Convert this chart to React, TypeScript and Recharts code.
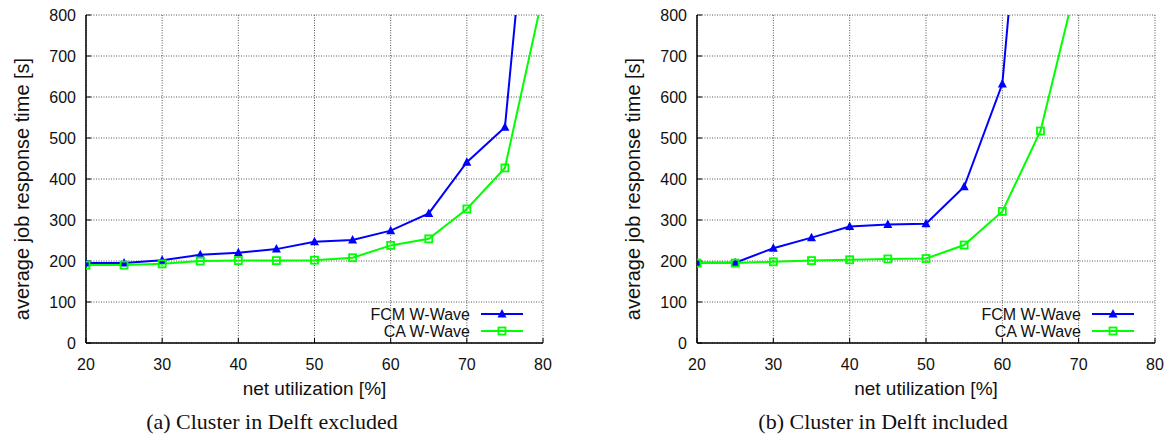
import { LineChart, Line, XAxis, YAxis, CartesianGrid, Legend } from 'recharts'

// net utilization [%] sampled every 5%
const UTIL = [20, 25, 30, 35, 40, 45, 50, 55, 60, 65, 70, 75, 80]

// (a) cluster in Delft excluded
const FCM_EXCLUDED = [195, 195, 202, 215, 220, 229, 247, 251, 274, 316, 441, 526, 1500]
const CA_EXCLUDED = [190, 190, 193, 200, 201, 201, 202, 208, 238, 254, 327, 427, 850]

// (b) cluster in Delft included
const FCM_INCLUDED = [196, 196, 231, 257, 284, 289, 291, 381, 632, 1680]
const CA_INCLUDED = [195, 195, 198, 201, 203, 205, 206, 239, 321, 517, 900]

const X_TICKS = [20, 30, 40, 50, 60, 70, 80]
const Y_TICKS = [0, 100, 200, 300, 400, 500, 600, 700, 800]

const FCM_NAME = 'FCM W-Wave'
const CA_NAME = 'CA W-Wave'
const BLUE = '#0000ff'
const GREEN = '#00ff00'
const SANS = '"Liberation Sans", Arial, Helvetica, sans-serif'

function zip(xs: number[], ys: number[]) {
  return ys.map((y, i) => ({ x: xs[i], y }))
}

function TriangleDot(props: any) {
  const { cx, cy } = props
  if (cx == null || cy == null) return null
  return (
    <path
      d={`M${cx},${cy - 5} L${cx + 4.5},${cy + 3.5} L${cx - 4.5},${cy + 3.5} Z`}
      fill={BLUE}
    />
  )
}

function SquareDot(props: any) {
  const { cx, cy } = props
  if (cx == null || cy == null) return null
  return (
    <rect x={cx - 3.5} y={cy - 3.5} width={7} height={7} fill="none" stroke={GREEN} strokeWidth={1.8} />
  )
}

function renderLegend() {
  const rows = [
    { name: FCM_NAME, color: BLUE, marker: 'tri' },
    { name: CA_NAME, color: GREEN, marker: 'sq' },
  ]
  return (
    <svg width={170} height={38} style={{ display: 'block' }}>
      {rows.map((r, i) => {
        const y = 10 + i * 17
        return (
          <g key={r.name}>
            <text x={110} y={y} textAnchor="end" dominantBaseline="central" fontSize={16} fontFamily={SANS} fill="#111">
              {r.name}
            </text>
            <line x1={121} x2={163} y1={y} y2={y} stroke={r.color} strokeWidth={2} />
            {r.marker === 'tri' ? <TriangleDot cx={142} cy={y} /> : <SquareDot cx={142} cy={y} />}
          </g>
        )
      })}
    </svg>
  )
}

function YLabel(props: any) {
  const { x, y, height } = props.viewBox
  const cx = x + 22
  const cy = y + height / 2 + 10
  return (
    <text
      x={cx}
      y={cy}
      transform={`rotate(-90 ${cx} ${cy})`}
      textAnchor="middle"
      dominantBaseline="central"
      fontSize={20}
      fontFamily={SANS}
      fill="#111"
    >
      average job response time [s]
    </text>
  )
}

interface PanelProps {
  width: number
  fcm: { x: number; y: number }[]
  ca: { x: number; y: number }[]
}

function Panel({ width, fcm, ca }: PanelProps) {
  const tickStyle = { fontSize: 16, fill: '#111', fontFamily: SANS }
  return (
    <LineChart width={width} height={437} margin={{ top: 15, right: 17, bottom: 64, left: 0 }}>
      <CartesianGrid stroke="#555" strokeDasharray="1 1.5" strokeWidth={1} />
      <XAxis
        dataKey="x"
        type="number"
        domain={[20, 80]}
        ticks={X_TICKS}
        allowDataOverflow
        height={30}
        tickSize={-5}
        tickMargin={21}
        tick={tickStyle}
        axisLine={{ stroke: '#000', strokeWidth: 1.5 }}
        tickLine={{ stroke: '#000' }}
        label={{ value: 'net utilization [%]', position: 'bottom', offset: 9, fontSize: 19, fill: '#111', fontFamily: SANS }}
      />
      <XAxis
        xAxisId="top"
        orientation="top"
        dataKey="x"
        type="number"
        domain={[20, 80]}
        ticks={X_TICKS}
        allowDataOverflow
        height={0}
        tickSize={-5}
        tick={false}
        axisLine={{ stroke: '#000', strokeWidth: 1.5 }}
        tickLine={{ stroke: '#000' }}
      />
      <YAxis
        type="number"
        domain={[0, 800]}
        ticks={Y_TICKS}
        allowDataOverflow
        width={86}
        tickSize={-5}
        tickMargin={15}
        tick={tickStyle}
        axisLine={{ stroke: '#000', strokeWidth: 1.5 }}
        tickLine={{ stroke: '#000' }}
        label={{ content: YLabel }}
      />
      <YAxis
        yAxisId="right"
        orientation="right"
        type="number"
        domain={[0, 800]}
        ticks={Y_TICKS}
        allowDataOverflow
        width={0}
        tickSize={-5}
        tick={false}
        axisLine={{ stroke: '#000', strokeWidth: 1.5 }}
        tickLine={{ stroke: '#000' }}
      />
      <Legend
        content={renderLegend}
        layout="horizontal"
        verticalAlign="middle"
        align="center"
        wrapperStyle={{ left: 360, top: 304, width: 170, height: 38 }}
      />
      <Line
        name={FCM_NAME}
        data={fcm}
        dataKey="y"
        type="linear"
        stroke={BLUE}
        strokeWidth={2}
        dot={<TriangleDot />}
        isAnimationActive={false}
      />
      <Line
        name={CA_NAME}
        data={ca}
        dataKey="y"
        type="linear"
        stroke={GREEN}
        strokeWidth={2}
        dot={<SquareDot />}
        isAnimationActive={false}
      />
    </LineChart>
  )
}

const captionStyle = {
  position: 'absolute' as const,
  top: 411,
  width: 400,
  textAlign: 'center' as const,
  fontFamily: '"Liberation Serif", "Times New Roman", serif',
  fontSize: 22,
  lineHeight: '22px',
  color: '#111',
}

export default function App() {
  return (
    <div style={{ position: 'absolute', left: 0, top: 0, width: 1172, height: 437, background: '#fff', overflow: 'hidden' }}>
      <div style={{ position: 'absolute', left: 0, top: 0 }}>
        <Panel width={560} fcm={zip(UTIL, FCM_EXCLUDED)} ca={zip(UTIL, CA_EXCLUDED)} />
      </div>
      <div style={{ position: 'absolute', left: 611, top: 0 }}>
        <Panel width={561} fcm={zip(UTIL, FCM_INCLUDED)} ca={zip(UTIL, CA_INCLUDED)} />
      </div>
      <div style={{ ...captionStyle, left: 72 }}>(a) Cluster in Delft excluded</div>
      <div style={{ ...captionStyle, left: 683 }}>(b) Cluster in Delft included</div>
    </div>
  )
}
